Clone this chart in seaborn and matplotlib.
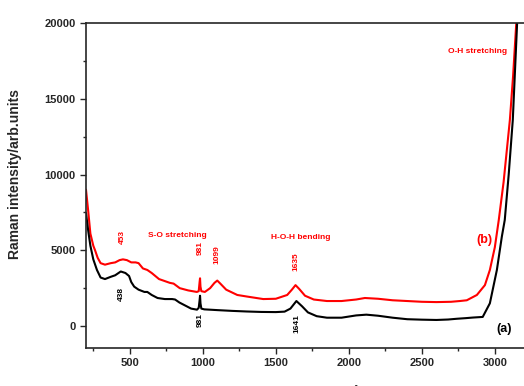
import numpy as np
import pandas as pd
import seaborn as sns
import matplotlib.pyplot as plt
from matplotlib.ticker import MultipleLocator

# spectrum (a) - black
black_x = [200, 215, 230, 250, 275, 300, 330, 370, 400, 438, 470, 495, 510, 530, 560, 600,
           620, 650, 690, 740, 790, 810, 840, 880, 920, 960, 972, 978, 981, 984, 990, 1010,
           1100, 1200, 1300, 1400, 1500, 1560, 1600, 1641, 1680, 1720, 1780, 1850, 1950, 2050,
           2120, 2200, 2300, 2400, 2500, 2600, 2680, 2740, 2800, 2850, 2917, 2966, 3014, 3048,
           3068, 3095, 3123, 3155]
black_y = [7450, 6300, 5300, 4400, 3700, 3200, 3100, 3250, 3350, 3600, 3500, 3300, 2900, 2600,
           2400, 2250, 2250, 2050, 1850, 1780, 1780, 1750, 1550, 1350, 1150, 1080, 1200, 1700,
           2000, 1500, 1150, 1100, 1050, 1000, 960, 930, 920, 950, 1150, 1650, 1300, 900, 650,
           550, 550, 700, 750, 680, 550, 450, 420, 400, 430, 480, 520, 560, 600, 1500, 3700,
           5900, 7000, 10000, 13600, 20500]

# spectrum (b) - red
red_x = [200, 215, 230, 250, 262, 280, 300, 330, 370, 400, 430, 453, 480, 510, 540, 560, 590,
         620, 650, 700, 774, 800, 842, 900, 959, 972, 978, 981, 984, 990, 1014, 1050, 1080,
         1099, 1120, 1160, 1236, 1300, 1414, 1500, 1578, 1610, 1635, 1660, 1700, 1760, 1850,
         1950, 2050, 2110, 2200, 2300, 2400, 2500, 2600, 2700, 2760, 2808, 2877, 2932, 2966,
         3000, 3027, 3060, 3103, 3125, 3150]
red_y = [9000, 7600, 6100, 5300, 5000, 4500, 4150, 4050, 4150, 4200, 4350, 4400, 4350, 4200,
         4200, 4150, 3800, 3700, 3500, 3100, 2850, 2800, 2500, 2350, 2250, 2300, 2900, 3150,
         2600, 2300, 2250, 2500, 2850, 3000, 2800, 2400, 2050, 1950, 1780, 1800, 2050, 2400,
         2700, 2450, 2000, 1750, 1650, 1650, 1750, 1850, 1800, 1700, 1650, 1600, 1580, 1600,
         1650, 1700, 2050, 2700, 3700, 5200, 7000, 9500, 13600, 16500, 20500]

df_a = pd.DataFrame({"shift": black_x, "intensity": black_y})
df_b = pd.DataFrame({"shift": red_x, "intensity": red_y})

sns.set_style("ticks")
plt.rcParams['font.family'] = ['Liberation Sans', 'DejaVu Sans']

fig = plt.figure(figsize=(5.24, 3.86), dpi=100)
ax = fig.add_axes([86 / 524, 38 / 386, 443 / 524, 325 / 386])

sns.lineplot(data=df_b, x="shift", y="intensity", color="#ff0000", lw=1.5, ax=ax, sort=False)
sns.lineplot(data=df_a, x="shift", y="intensity", color="black", lw=1.5, ax=ax, sort=False)

ax.set_xlim(200, 3234)
ax.set_ylim(-1450, 20000)
ax.xaxis.set_major_locator(MultipleLocator(500))
ax.xaxis.set_minor_locator(MultipleLocator(250))
ax.yaxis.set_major_locator(MultipleLocator(5000))
ax.yaxis.set_minor_locator(MultipleLocator(2500))
ax.tick_params(which="both", direction="out", width=1)
ax.tick_params(which="major", length=4, labelsize=8)
ax.tick_params(which="minor", length=2.5)
for lab in ax.get_xticklabels() + ax.get_yticklabels():
    lab.set_fontweight("bold")
for s in ax.spines.values():
    s.set_linewidth(1.2)

ax.set_ylabel("Raman intensity/arb.units", fontsize=10, fontweight="bold")
ax.yaxis.set_label_coords(-0.144, 0.535)
# x label sits almost entirely below the image edge, as in the original
ax.set_xlabel("Raman shift (cm$^{-1}$)", fontsize=9, fontweight="bold")
ax.xaxis.set_label_coords(0.499, -0.112)

red = "#ff0000"
kw = dict(fontsize=6, fontweight="bold", ha="center", va="center")
ax.text(446, 5870, "453", color=red, rotation=90, **kw)
ax.text(985, 5150, "981", color=red, rotation=90, **kw)
ax.text(1095, 4690, "1099", color=red, rotation=90, **kw)
ax.text(1638, 4220, "1635", color=red, rotation=90, **kw)
ax.text(443, 2110, "438", color="black", rotation=90, **kw)
ax.text(984, 400, "981", color="black", rotation=90, **kw)
ax.text(1642, 130, "1641", color="black", rotation=90, **kw)

ax.text(625, 6000, "S-O stretching", color=red, fontsize=6, fontweight="bold", ha="left", va="center")
ax.text(1467, 5870, "H-O-H bending", color=red, fontsize=6, fontweight="bold", ha="left", va="center")
ax.text(2885, 18150, "O-H stretching", color=red, fontsize=6, fontweight="bold", ha="center", va="center")
ax.text(2926, 5680, "(b)", color=red, fontsize=9, fontweight="bold", ha="center", va="center")
ax.text(3063, -200, "(a)", color="black", fontsize=9, fontweight="bold", ha="center", va="center")

fig.savefig("out.png", dpi=100)
